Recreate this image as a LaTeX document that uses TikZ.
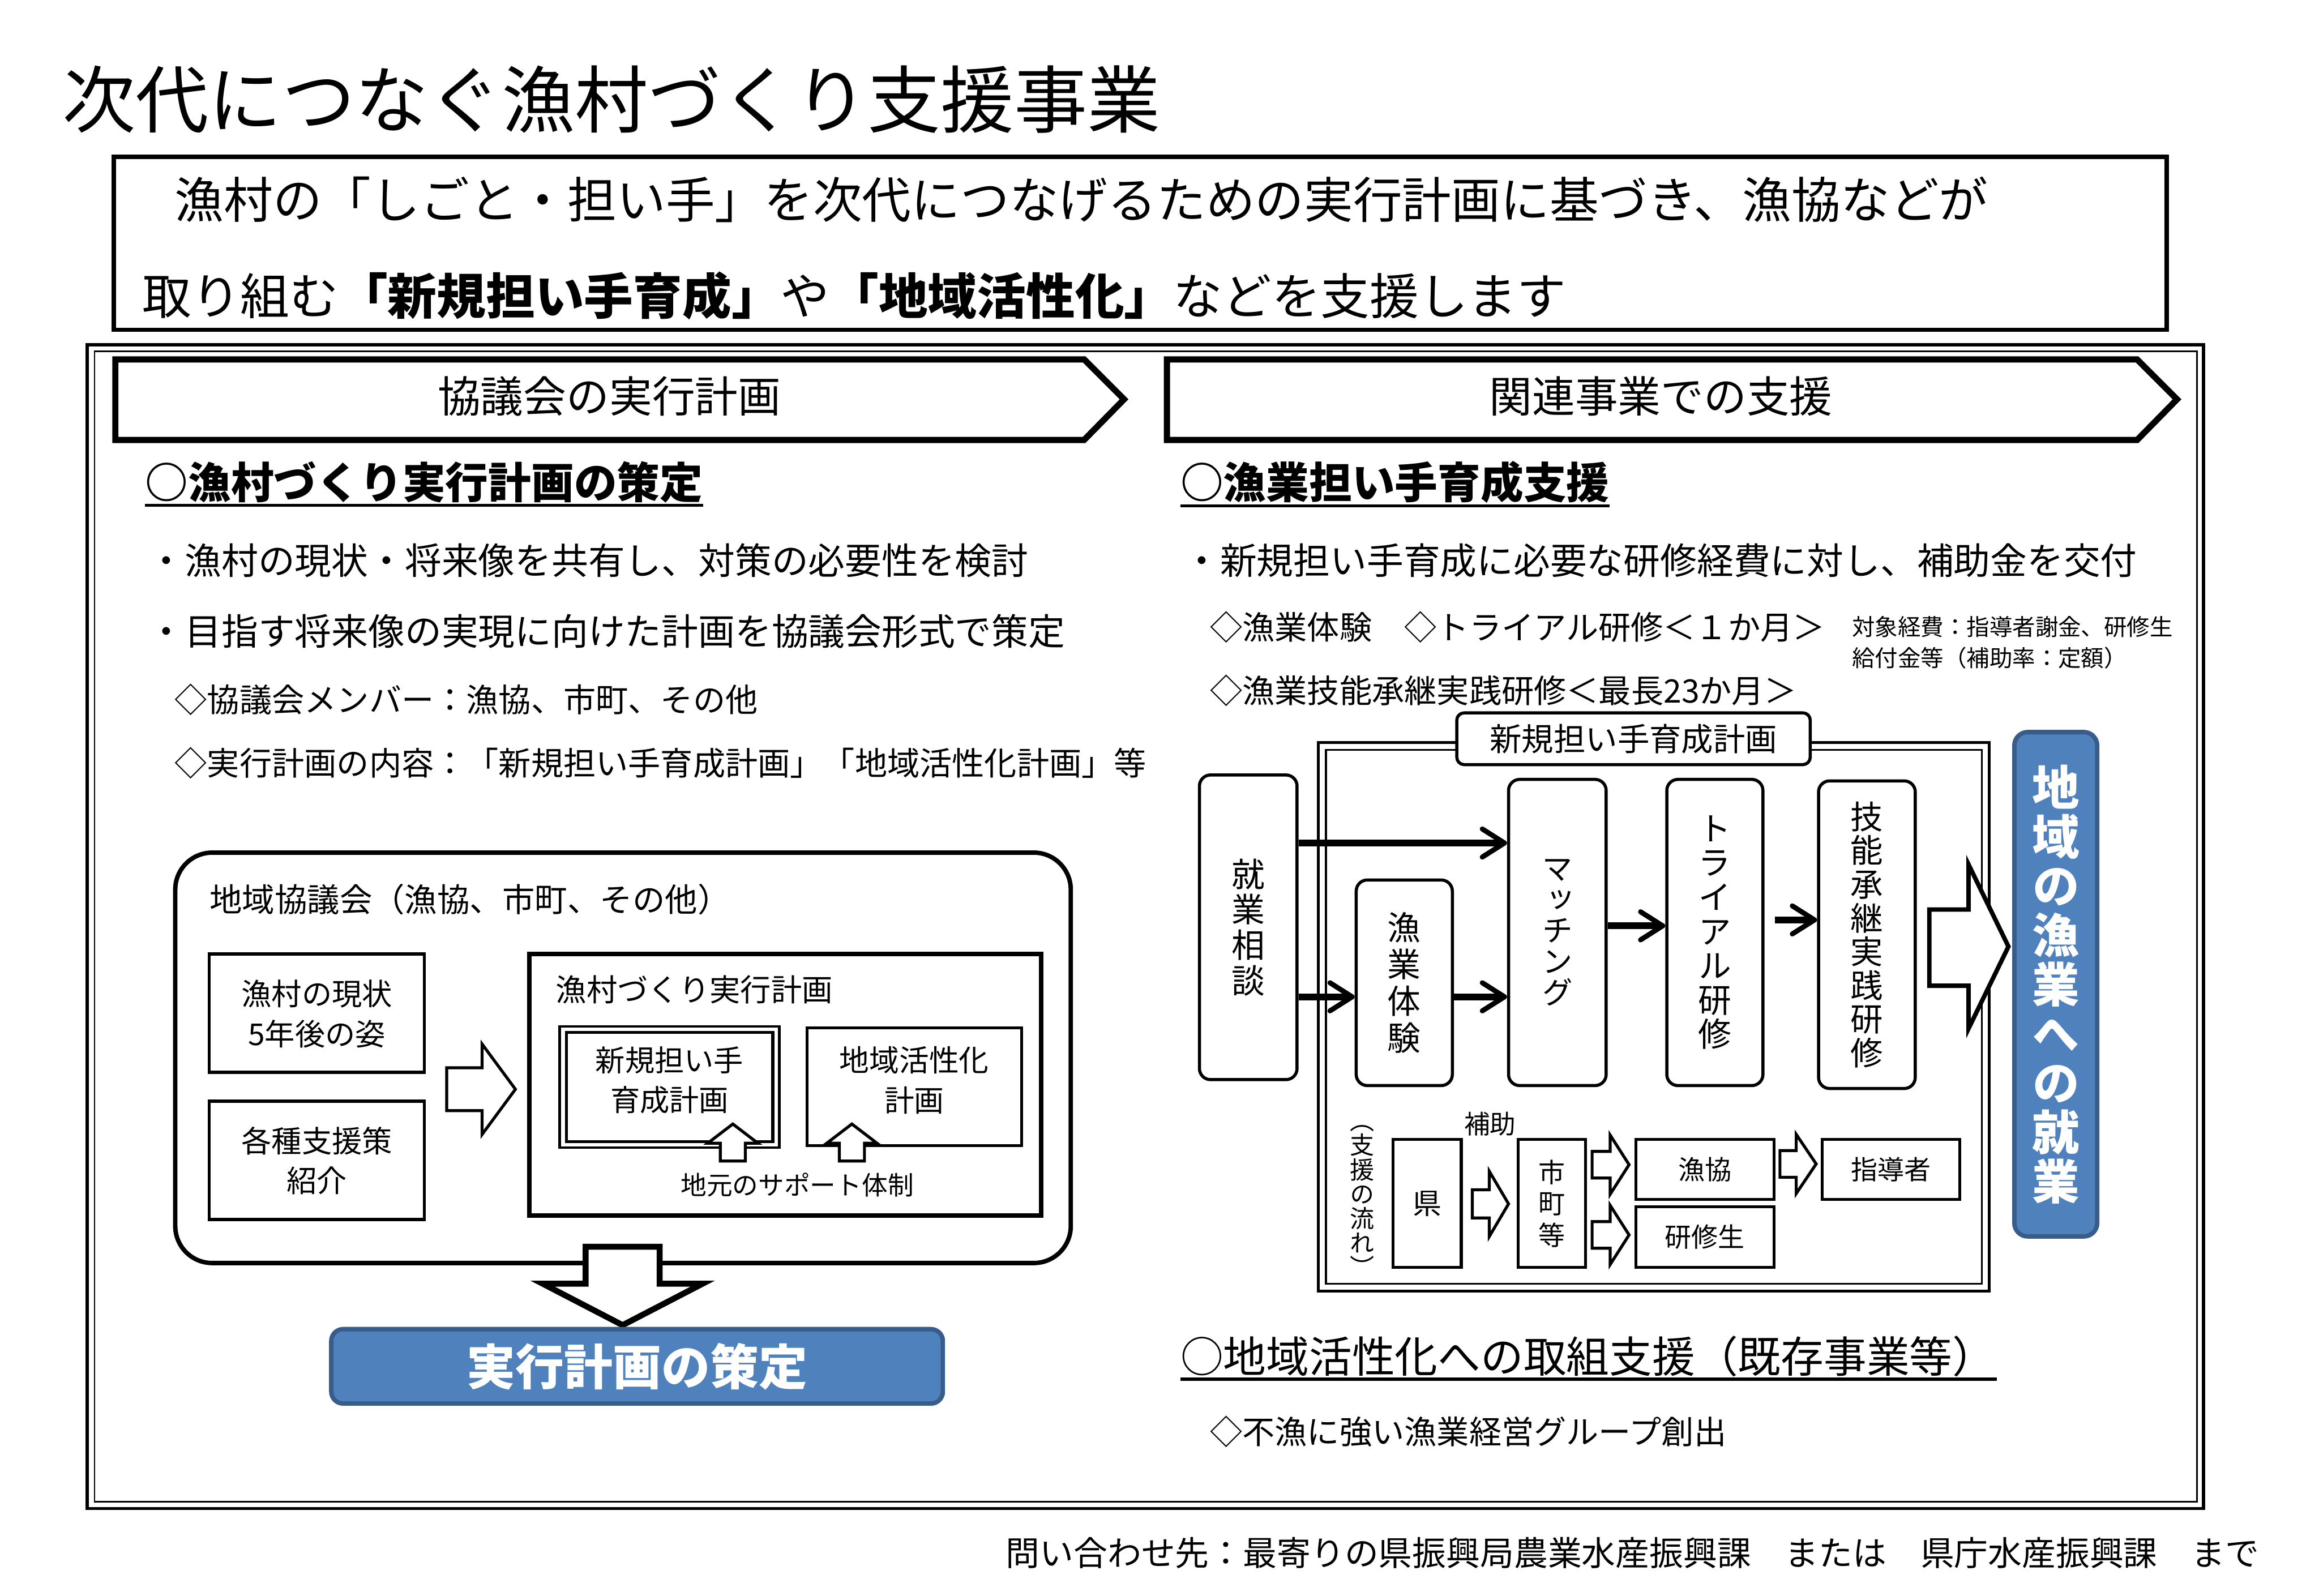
\documentclass[tikz,border=0pt]{standalone}
\usepackage{fontspec}
\setmainfont{Noto Sans CJK JP}
\newfontfamily\vfont[RawFeature=+vert]{Noto Sans CJK JP}
\usetikzlibrary{arrows.meta}
\definecolor{oblue}{HTML}{4F81BD}
\definecolor{oblueb}{HTML}{385D8A}
\newcommand{\fsz}[1]{\fontsize{#1pt}{#1pt}\selectfont}
\newcommand{\fszb}[2]{\fontsize{#1pt}{#2pt}\selectfont}
\tikzset{
  txt/.style={inner sep=0pt, anchor=west},
  ctxt/.style={inner sep=0pt, align=center},
  box/.style={draw, line width=2.1pt, fill=white, inner sep=0pt},
  rbox/.style={box, rounded corners=7.5pt},
  flow/.style={line width=4.7pt, -{Straight Barb[length=15pt,width=19pt,line width=3.4pt,round]}},
  barrow/.style={draw, line width=2pt, fill=white, line join=miter},
  bluebox/.style={draw=oblueb, fill=oblue, line width=3pt, text=white, inner sep=0pt},
}
\begin{document}
\begin{tikzpicture}[x=1pt,y=-1pt]
\useasboundingbox (0,0) rectangle (1568,1079);
\fill[white] (0,0) rectangle (1568,1079);

% title
\node[txt] (title) at (42,67) {\fsz{49.5}次代につなぐ漁村づくり支援事業};

% intro box
\draw[line width=3pt] (77,106) rectangle (1465,223);
\node[txt] (intro1) at (118,135) {\fsz{33.2}漁村の「しごと・担い手」を次代につなげるための実行計画に基づき、漁協などが};
\node[txt] (intro2) at (96,200) {\fsz{33.2}取り組む\textbf{「新規担い手育成」}や\textbf{「地域活性化」}などを支援します};

% outer frame
\draw[line width=2.2pt] (59,233) rectangle (1490,1020);
\draw[line width=1pt] (64,237.5) rectangle (1485.5,1015.5);

% headers
\draw[line width=4.2pt, line join=miter] (78,243) -- (733,243) -- (760,270) -- (733,297.5) -- (78,297.5) -- cycle;
\node[ctxt] (hdrL) at (412,268) {\fsz{29}協議会の実行計画};
\draw[line width=4.2pt, line join=miter] (789,243) -- (1445,243) -- (1472,270) -- (1445,297.5) -- (789,297.5) -- cycle;
\node[ctxt] (hdrR) at (1123,268) {\fsz{29}関連事業での支援};

% left headline
\node[txt, font=\bfseries] (hL) at (98,326) {\fsz{29}○漁村づくり実行計画の策定};
\draw[line width=2pt] ([yshift=-1.5pt]hL.south west) -- ([yshift=-1.5pt]hL.south east);
\node[txt] (lb1) at (100,379) {\fsz{24.8}・漁村の現状・将来像を共有し、対策の必要性を検討};
\node[txt] (lb2) at (100,427) {\fsz{24.8}・目指す将来像の実現に向けた計画を協議会形式で策定};
\node[txt] (ld1) at (118,473) {\fsz{21.9}◇協議会メンバー：漁協、市町、その他};
\node[txt] (ld2) at (118,516) {\fsz{21.9}◇実行計画の内容：「新規担い手育成計画」「地域活性化計画」等};

% regional council
\draw[line width=3pt, rounded corners=25pt] (118.5,576.5) rectangle (724,854);
\node[txt] (council) at (141.5,608) {\fsz{22}地域協議会（漁協、市町、その他）};
\node[box, minimum width=145.5pt, minimum height=80pt] (genjo) at (214.25,685) {};
\node[ctxt, font=\fszb{20.4}{27}] (genjoT) at (214.25,685.5) {漁村の現状\\5年後の姿};
\node[box, minimum width=145.5pt, minimum height=80pt] (shien) at (214.25,784.6) {};
\node[ctxt, font=\fszb{20.4}{26.5}] (shienT) at (214.25,784.8) {各種支援策\\紹介};
\draw[barrow] (302,722) -- (326,722) -- (326,706) -- (348.5,736.5) -- (326,767) -- (326,751) -- (302,751) -- cycle;

\node[box, line width=3pt, minimum width=346pt, minimum height=177pt] (plan) at (531,733.5) {};
\node[txt] (planT) at (375.7,669) {\fsz{20.8}漁村づくり実行計画};
\draw[line width=1.8pt] (378.5,694) rectangle (527,776);
\node[box, minimum width=139.5pt, minimum height=74pt] (ninaite) at (452.75,735) {};
\node[ctxt, font=\fszb{20}{27}] (ninaiteT) at (452.7,730.4) {新規担い手\\育成計画};
\node[box, minimum width=145.1pt, minimum height=79.7pt] (kasseika) at (618.15,734.85) {};
\node[ctxt, font=\fszb{20.2}{27}] (kasseikaT) at (618.15,730.4) {地域活性化\\計画};
\draw[barrow] (487,785) -- (487,773) -- (478.5,773) -- (495.5,760) -- (512.5,773) -- (504,773) -- (504,785) -- cycle;
\draw[barrow] (567.5,785) -- (567.5,773) -- (559,773) -- (576,760) -- (593,773) -- (584.5,773) -- (584.5,785) -- cycle;
\node[ctxt] (support) at (539,801) {\fsz{17.5}地元のサポート体制};

% down arrow and result
\draw[line width=4pt, fill=white, line join=miter] (396,843) -- (446,843) -- (446,868) -- (475,868) -- (421,896) -- (367,868) -- (396,868) -- cycle;
\node[bluebox, rounded corners=8pt, minimum width=413.5pt, minimum height=50.3pt, font=\bfseries\fsz{32.9}] (sakutei) at (430.75,923.85) {実行計画の策定};

% right headline
\node[txt, font=\bfseries] (hR) at (798,326) {\fsz{29}○漁業担い手育成支援};
\draw[line width=2pt] ([yshift=-1.5pt]hR.south west) -- ([yshift=-1.5pt]hR.south east);
\node[txt] (rb1) at (800,379) {\fsz{24.8}・新規担い手育成に必要な研修経費に対し、補助金を交付};
\node[txt] (rd1) at (818,424) {\fsz{21.9}◇漁業体験　◇トライアル研修＜１か月＞};
\node[txt] (cost1) at (1252,424) {\fsz{15.5}対象経費：指導者謝金、研修生};
\node[txt] (cost2) at (1252,445) {\fsz{15.5}給付金等（補助率：定額）};
\node[txt] (rd2) at (818,467) {\fsz{21.9}◇漁業技能承継実践研修＜最長23か月＞};

% training plan frame
\draw[line width=2pt] (891.5,502) rectangle (1345,873);
\draw[line width=1.4pt] (896.5,507) rectangle (1340,868);
\node[rbox, rounded corners=5pt, minimum width=239pt, minimum height=35pt] (planlabel) at (1104.5,499.5) {\fsz{21.6}新規担い手育成計画};

\node[rbox, minimum width=66pt, minimum height=206pt, align=center, font=\vfont\fszb{22.5}{24}] (soudan) at (844,627) {就\\業\\相\\談};
\node[rbox, minimum width=65pt, minimum height=139pt, align=center, font=\vfont\fszb{22.5}{24.9}] (taiken) at (949.5,664.5) {漁\\業\\体\\験};
\node[rbox, minimum width=66pt, minimum height=207pt, align=center, font=\vfont\fszb{21}{21}] (matching) at (1053,630.5) {マ\\ッ\\チ\\ン\\グ};
\node[rbox, minimum width=65pt, minimum height=207pt, align=center, font=\vfont\fszb{22.5}{23.2}] (trial) at (1159.5,630.5) {ト\\ラ\\イ\\ア\\ル\\研\\修};
\node[rbox, minimum width=65.4pt, minimum height=208pt, align=center, font=\vfont\fszb{22}{22.8}] (ginou) at (1262.3,632) {技\\能\\承\\継\\実\\践\\研\\修};

\coordinate (ya1) at (0,570);
\coordinate (ya2) at (0,674);
\coordinate (ya4) at (0,626);
\coordinate (ya5) at (0,622);
\draw[flow] (soudan.east |- ya1) -- (matching.west |- ya1);
\draw[flow] (soudan.east |- ya2) -- (taiken.west |- ya2);
\draw[flow] (taiken.east |- ya2) -- (matching.west |- ya2);
\draw[flow] (matching.east |- ya4) -- (trial.west |- ya4);
\draw[flow, shorten <=7pt] (trial.east |- ya5) -- (ginou.west |- ya5);

% big right arrow
\draw[line width=3pt, fill=white, line join=miter] (1304.5,615) -- (1331,615) -- (1331,584.5) -- (1358,640) -- (1331,695.5) -- (1331,666.5) -- (1304.5,666.5) -- cycle;
\node[bluebox, rounded corners=9pt, minimum width=56pt, minimum height=341pt, align=center, font=\vfont\bfseries\fszb{32}{33.3}] (shugyo) at (1390,665.5) {地\\域\\の\\漁\\業\\へ\\の\\就\\業};

% support flow
\node[ctxt, font=\vfont\fszb{16.5}{16.5}] (flowlabel) at (921,812) {（\\支\\援\\の\\流\\れ\\）};
\node[ctxt] (hojo) at (1007.5,760) {\fsz{17.5}補助};
\node[box, line width=2pt, minimum width=46pt, minimum height=86.5pt] (ken) at (965,813.75) {\fsz{19.5}県};
\node[box, line width=2pt, minimum width=45.5pt, minimum height=86.5pt, align=center, font=\vfont\fszb{18}{21.3}] (shichou) at (1049.25,813.75) {市\\町\\等};
\node[box, line width=2pt, minimum width=93.6pt, minimum height=40.5pt] (gyokyo) at (1152.8,790.75) {\fsz{18}漁協};
\node[box, line width=2pt, minimum width=93.6pt, minimum height=41pt] (kenshu) at (1152.8,836.5) {\fsz{18}研修生};
\node[box, line width=2pt, minimum width=93pt, minimum height=40.5pt] (shido) at (1278.5,790.75) {\fsz{18}指導者};
\draw[barrow] (995.5,804.5) -- (1007,804.5) -- (1007,792) -- (1020,814) -- (1007,836) -- (1007,823.5) -- (995.5,823.5) -- cycle;
\draw[barrow] (1076.5,778.5) -- (1088.7,778.5) -- (1088.7,767.5) -- (1101.5,787.5) -- (1088.7,807.5) -- (1088.7,796.5) -- (1076.5,796.5) -- cycle;
\draw[barrow] (1076.5,826) -- (1088.7,826) -- (1088.7,815) -- (1101.5,835) -- (1088.7,855) -- (1088.7,844) -- (1076.5,844) -- cycle;
\draw[barrow] (1203.5,778) -- (1214.5,778) -- (1214.5,767) -- (1228,787) -- (1214.5,807) -- (1214.5,796) -- (1203.5,796) -- cycle;

% regional activation
\node[txt] (hR2) at (798,917) {\fsz{29}○地域活性化への取組支援（既存事業等）};
\coordinate (ulend) at (1350,0);
\draw[line width=2pt] ([yshift=-1.5pt]hR2.south west) -- ([yshift=-1.5pt]hR2.south west -| ulend);
\node[txt] (rd3) at (818,968) {\fsz{21.9}◇不漁に強い漁業経営グループ創出};

% footer
\node[txt] (footer) at (680,1050) {\fsz{22.9}問い合わせ先：最寄りの県振興局農業水産振興課　または　県庁水産振興課　まで};
\end{tikzpicture}
\end{document}
